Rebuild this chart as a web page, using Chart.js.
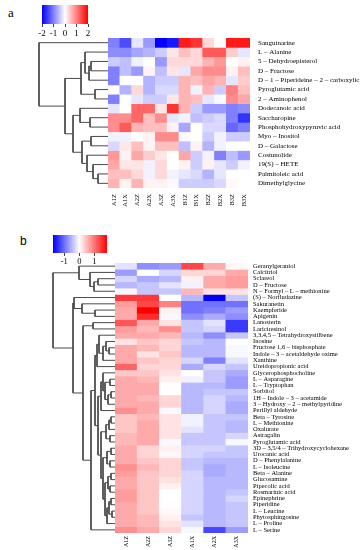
<!DOCTYPE html>
<html><head><meta charset="utf-8">
<script src="https://cdn.jsdelivr.net/npm/chart.js@4"></script>
<style>
html,body{margin:0;padding:0;background:#fff;width:361px;height:550px;overflow:hidden;position:relative}
canvas{position:absolute}
.lab{position:absolute;color:#000}
</style></head><body>
<div class="lab" style="left:8px;top:5px;font-family:'Liberation Serif',serif;font-size:13px">a</div>
<div class="lab" style="left:20px;top:234px;font-family:'Liberation Sans',sans-serif;font-size:12px">b</div>
<canvas id="legA" width="70" height="34" style="left:30px;top:5px"></canvas>
<canvas id="denA" width="72" height="150" style="left:36px;top:38px"></canvas>
<canvas id="heatA" width="253" height="190" style="left:108px;top:38px"></canvas>
<canvas id="legB" width="78" height="30" style="left:41px;top:235px"></canvas>
<canvas id="denB" width="65" height="270" style="left:50px;top:263px"></canvas>
<canvas id="heatB" width="246" height="287" style="left:115px;top:263px"></canvas>
<script>
// ---------- Panel a data ----------
const aCols = ['A1Z','A1X','A2Z','A2X','A3Z','A3X','B1Z','B1X','B2Z','B2X','B3Z','B3X'];
const aRows = ['Sanguinarine','L – Alanine','5 – Dehydroepisterol','D – Fructose',
  'D – 1 – Piperideine – 2 – carboxylic acid','Pyroglutamic acid','2 – Aminophenol','Dodecanoic acid',
  'Saccharopine','Phosphohydroxypyruvic acid','Myo – Inositol','D – Galactose','Costunolide',
  '19(S) – HETE','Palmitoleic acid','Dimethylglycine'];
const aValues = [
  [-1.0,-1.4,-0.2,-0.8,-2.0,-1.8, 1.8, 1.6, 0.3, 0.0, 1.8, 1.8],
  [-0.9,-0.9,-0.7,-0.6,-0.4, 0.2, 0.5, 0.3, 1.3, 1.3, 0.4,-0.2],
  [-0.4,-0.5,-0.1, 0.0,-0.8, 0.3, 0.3, 0.3, 0.6, 0.8, 0.0, 0.1],
  [-1.0,-0.5,-0.8, 0.1,-0.5, 0.2,-0.2, 0.7, 0.9, 0.9, 0.1, 0.5],
  [-1.0, 0.0, 0.0,-0.6,-0.4,-0.4, 0.6, 0.5, 0.7, 0.6,-0.2, 0.4],
  [ 0.05,-0.6, 0.3,-0.6,-0.3,-0.3, 0.6,-0.1, 0.6,-0.4, 1.0, 0.5],
  [-1.0, 0.0,-0.2,-0.4,-0.4, 0.2, 0.6, 0.5,-0.2,-0.05, 0.9, 0.7],
  [-0.2, 0.0, 1.2, 1.2, 0.2, 1.6, 0.6,-0.4,-0.8,-0.8,-1.0,-0.9],
  [ 0.9, 0.9, 1.2, 0.5, 0.9,-0.2,-0.1,-0.5,-0.4,-0.3,-1.0,-1.6],
  [ 0.9, 1.3, 0.6, 0.5, 0.5, 0.1,-0.7, 0.0,-0.3,-0.3,-1.2,-1.0],
  [-0.1,-0.1, 0.0, 0.1, 0.9, 0.9,-0.05, 0.0,-0.4,-0.1,-0.4,-0.4],
  [-0.3, 0.2, 0.5, 0.1, 0.5, 0.5,-0.5, 0.1,-0.6,-0.1, 0.0, 0.0],
  [ 0.8, 0.1, 0.7, 0.4, 0.2, 0.0, 0.7,-0.4,-0.1,-1.0,-0.5,-0.8],
  [ 0.7, 0.2, 0.2,-0.1, 0.3, 0.0, 0.1,-0.4, 0.1,-0.2,-0.4,-0.1],
  [ 0.5, 0.5, 0.3,-0.1, 0.3,-0.1,-0.2,-0.3,-0.6,-0.2, 0.0, 0.0],
  [ 0.6, 0.1, 0.6, 0.1, 0.1,-0.05,-0.4,-0.4,-0.4,-0.3, 0.05, 0.0]
];
// merges: [child, child, height]; leaves 0..n-1, merge k has id n+k
const aMerges = [
  [2,3,17],[16,4,19],[1,17,23],[5,6,13],[18,19,27],
  [8,9,18],[7,21,28],[10,11,17],[14,15,10],[13,24,15],[12,25,21],[23,26,26],
  [22,27,35],[20,28,43],[0,29,69]
];
const aLegendTicks = [-2,-1,0,1,2];

// ---------- Panel b data ----------
const bCols = ['A1Z','A2Z','A3Z','A1X','A2X','A3X'];
const bRows = ['Geranylgeraniol','Calcitriol','Sclareol','D – Fructose','N – Formyl – L – methionine',
  '(S) – Norfludazine','Sakuranetin','Kaempferide','Apigenin','Lanosterin','Lariciresinol',
  '3,3,4,5 – Tetrahydroxystilbene','Inosine','Fructose 1,6 – bisphosphate','Indole – 3 – acetaldehyde oxime',
  'Xanthine','Ureidopropionic acid','Glycerophosphocholine','L – Asparagine','L – Tryptophan','Sorbitol',
  '1H – Indole – 3 – acetamide','3 – Hydroxy – 2 – methylpyridine','Perillyl aldehyde','Beta – Tyrosine',
  'L – Methionine','Oxalurate','Astragalin','Pyroglutamic acid','3D – 3,5/4 – Trihydroxycyclohexane',
  'Urocanic acid','D – Phenylalanine','L – Isoleucine','Beta – Alanine','Glucosamine','Pipecolic acid',
  'Rosmarinic acid','Epinephrine','Piperidine','L – Leucine','Phytosphingosine','L – Proline','L – Serine'];
const bValues = [
  [-0.2,-0.8,-0.7, 1.3, 0.6, 0.05],
  [-0.7, 0.0,-0.3, 0.3, 0.3, 0.6],
  [-0.3,-0.6,-0.5, 0.1, 0.6, 0.7],
  [-0.5,-0.4,-0.2,-0.1, 0.6, 0.7],
  [-0.05,-0.4,-0.4, 0.5, 0.2, 0.2],
  [ 1.4, 1.4, 0.0,-0.5,-1.8,-0.4],
  [ 0.7, 1.3, 0.9,-1.0,-1.0,-1.0],
  [ 0.6, 1.8, 0.1,-1.0,-0.9,-0.7],
  [ 0.6, 1.5,-0.05,-0.8,-0.6,-0.8],
  [ 1.2, 0.6, 0.2,-0.4,-0.2,-1.4],
  [ 0.7, 0.5, 0.8,-0.4,-0.3,-1.4],
  [ 0.6, 0.6, 0.5,-0.5,-0.8,-0.4],
  [ 0.2, 0.4, 0.3,-0.4,-0.5, 0.0],
  [ 0.6, 0.5, 0.3,-0.5,-0.5,-0.05],
  [ 0.6, 0.2, 0.4,-0.5,-0.5,-0.05],
  [ 0.6, 0.4, 0.3,-0.3,-0.9,-0.2],
  [ 1.1, 0.3, 0.3,-0.6,-0.3,-0.4],
  [ 0.4, 0.4, 0.2, 0.0,-0.4,-0.6],
  [ 0.6, 0.5, 0.1,-0.1,-0.4,-0.7],
  [ 0.6, 0.6, 0.0,-0.5,-0.5,-0.7],
  [ 0.6, 0.6, 0.0,-0.5,-0.4,-0.4],
  [ 0.6, 0.5, 0.3,-0.5,-0.3,-0.5],
  [ 0.6, 0.6, 0.3,-0.5,-0.3,-0.6],
  [ 0.8, 0.6,-0.05,-0.5,-0.3,-0.6],
  [ 0.4, 0.5, 0.2,-0.1,-0.4,-0.4],
  [ 0.4, 0.6, 0.2,-0.1,-0.4,-0.5],
  [ 0.4, 0.6, 0.2,-0.2,-0.4,-0.5],
  [ 0.5, 0.6, 0.2,-0.4,-0.4,-0.3],
  [ 0.5, 0.6,-0.05,-0.4,-0.4,-0.05],
  [ 0.6, 0.3, 0.1,-0.3,-0.3,-0.4],
  [ 0.6, 0.3, 0.05,-0.3,-0.4,-0.4],
  [ 0.6, 0.4, 0.3,-0.4,-0.5,-0.5],
  [ 0.8, 0.5, 0.3,-0.4,-0.6,-0.5],
  [ 0.7, 0.4, 0.3,-0.3,-0.6,-0.5],
  [ 0.6, 0.4, 0.2,-0.3,-0.5,-0.5],
  [ 0.6, 0.4, 0.1,-0.3,-0.5,-0.5],
  [ 0.7, 0.4, 0.0,-0.3,-0.5,-0.4],
  [ 0.7, 0.4, 0.0,-0.3,-0.5,-0.3],
  [ 0.6, 0.4, 0.0,-0.3,-0.5,-0.4],
  [ 0.6, 0.4, 0.05,-0.3,-0.5,-0.4],
  [ 0.6, 0.5, 0.1,-0.4,-0.5,-0.4],
  [ 0.6, 0.5, 0.2,-0.2,-0.5,-0.4],
  [ 0.8, 0.6, 0.3,-0.05,-1.3,-0.7]
];
const bMerges = [
  [2,3,17],[43,4,21],[1,44,25],[0,45,36],
  [7,8,20],[6,47,33],[5,48,41],
  [9,10,22],
  [13,14,6],[12,51,9],[52,15,12],[11,53,16],[54,16,18],
  [18,19,5],[20,21,4],[57,22,7],[56,58,10],[17,59,12],[60,23,14],
  [24,25,4],[62,26,6],[27,28,5],[63,64,9],
  [29,30,4],[31,32,5],[66,67,8],[33,34,4],[35,36,5],[69,70,7],
  [37,38,4],[39,40,3],[72,73,6],[74,41,8],[71,75,10],[68,76,12],
  [65,77,14],[61,78,17],[55,79,20],[80,42,24],[50,81,32],[49,82,42],[46,83,62]
];
const bLegendTicks = [-1,0,1];

// ---------- helpers ----------
const SERIF = "'Liberation Serif', 'DejaVu Serif', serif";
function colorFor(v, max) {
  const t = Math.max(-1, Math.min(1, v / max));
  let r, g, b;
  if (t < 0) { r = g = Math.round(255 * (1 + t)); b = 255; }
  else { r = 255; g = b = Math.round(255 * (1 - t)); }
  return `rgb(${r},${g},${b})`;
}
const noPlugins = {legend:{display:false}, tooltip:{enabled:false}};

function heatmap(id, cols, rows, values, cmax, o) {
  const datasets = rows.map((name, r) => ({
    data: cols.map(() => [r - 0.5, r + 0.5]),
    backgroundColor: values[r].map(v => colorFor(v, cmax)),
    borderWidth: 0, grouped: false, barPercentage: 1, categoryPercentage: 1
  }));
  new Chart(document.getElementById(id), {
    type: 'bar',
    data: {labels: cols, datasets},
    options: {
      responsive: false, animation: false, plugins: noPlugins,
      layout: {padding: 0},
      scales: {
        x: {
          grid: {display: false, drawTicks: false}, border: {display: false},
          ticks: {minRotation: 90, maxRotation: 90, autoSkip: false, padding: o.xPad, color: '#000',
                  font: {family: SERIF, size: o.xFont}},
          afterFit: s => { s.height = o.xH; s.paddingLeft = 0; s.paddingRight = 0; }
        },
        y: {
          type: 'linear', position: 'right', reverse: true, min: -0.5, max: rows.length - 0.5,
          grid: {display: false, drawTicks: false}, border: {display: false},
          afterBuildTicks: s => { s.ticks = rows.map((_, i) => ({value: i})); },
          ticks: {autoSkip: false, padding: o.yPad, color: '#000',
                  font: {family: SERIF, size: o.yFont}, callback: v => rows[v]},
          afterFit: s => { s.width = o.yW; s.paddingTop = 0; s.paddingBottom = 0; }
        }
      }
    }
  });
}

function dendro(id, n, merges, hmax) {
  const pos = [], hts = [];
  for (let i = 0; i < n; i++) { pos[i] = i; hts[i] = 0; }
  const datasets = merges.map(([a, b, h], k) => {
    pos[n + k] = (pos[a] + pos[b]) / 2; hts[n + k] = h;
    return {
      data: [{x: hts[a], y: pos[a]}, {x: h, y: pos[a]}, {x: h, y: pos[b]}, {x: hts[b], y: pos[b]}],
      showLine: true, borderColor: '#4a4a4a', borderWidth: 1, pointRadius: 0, tension: 0, clip: false, fill: false
    };
  });
  new Chart(document.getElementById(id), {
    type: 'scatter', data: {datasets},
    options: {
      responsive: false, animation: false, plugins: noPlugins, layout: {padding: 0},
      scales: {
        x: {type: 'linear', display: false, reverse: true, min: 0, max: hmax},
        y: {type: 'linear', display: false, reverse: true, min: -0.5, max: n - 0.5}
      }
    }
  });
}

function legendBar(id, min, max, ticks, o) {
  new Chart(document.getElementById(id), {
    type: 'bar',
    data: {labels: [''], datasets: [{
      data: [[min, max]], barPercentage: 1, categoryPercentage: 1, borderWidth: 0,
      backgroundColor: ctx => {
        const ch = ctx.chart, xs = ch.scales.x;
        if (!xs || !ch.chartArea) return '#fff';
        const x0 = xs.getPixelForValue(min), x1 = xs.getPixelForValue(max);
        const g = ch.ctx.createLinearGradient(x0, 0, x1, 0);
        g.addColorStop(0, 'rgb(0,0,255)');
        g.addColorStop((0 - min) / (max - min), 'rgb(255,255,255)');
        g.addColorStop(1, 'rgb(255,0,0)');
        return g;
      }
    }]},
    options: {
      indexAxis: 'y', responsive: false, animation: false, plugins: noPlugins,
      layout: {padding: {left: 12, right: 12, top: 0, bottom: 0}},
      scales: {
        y: {display: false},
        x: {
          type: 'linear', min: min, max: max, position: 'bottom',
          grid: {display: true, drawOnChartArea: false, drawTicks: true, tickLength: 3, color: '#444'},
          border: {display: false},
          afterBuildTicks: s => { s.ticks = ticks.map(v => ({value: v})); },
          ticks: {padding: 1, color: '#000', autoSkip: false, minRotation: 0, maxRotation: 0,
                  font: {family: SERIF, size: o.font}},
          afterFit: s => { s.height = o.h; s.paddingLeft = 0; s.paddingRight = 0; }
        }
      }
    }
  });
}

legendBar('legA', -2, 2, aLegendTicks, {font: 9, h: 15});
dendro('denA', aRows.length, aMerges, 72);
heatmap('heatA', aCols, aRows, aValues, 2, {xPad: 6, xFont: 6.5, xH: 40, yPad: 8, yFont: 7, yW: 111});

legendBar('legB', -1.75, 1.85, bLegendTicks, {font: 8.5, h: 12});
dendro('denB', bRows.length, bMerges, 65);
heatmap('heatB', bCols, bRows, bValues, 1.8, {xPad: 3, xFont: 6, xH: 17, yPad: 5, yFont: 6.5, yW: 113});
</script>
</body></html>
